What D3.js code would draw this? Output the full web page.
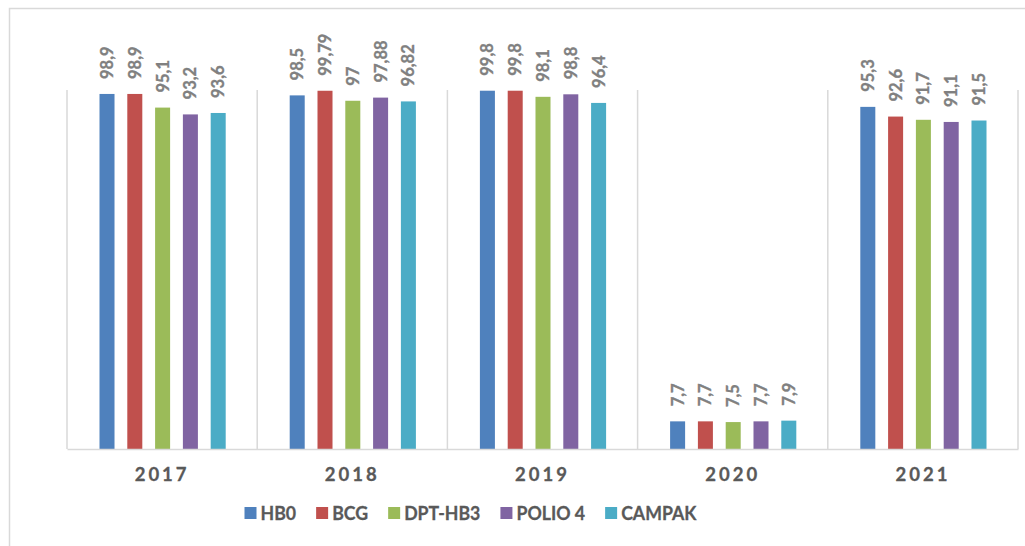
<!DOCTYPE html>
<html>
<head>
<meta charset="utf-8">
<script src="https://cdn.jsdelivr.net/npm/d3@7"></script>
<style>
  html, body { margin: 0; padding: 0; background: #fff; }
  svg { display: block; font-family: Lato, "Open Sans", sans-serif; }
</style>
</head>
<body>
<svg id="chart" width="1025" height="546"></svg>
<script>
// Immunisation coverage (%) per year and vaccine
const years = ["2017", "2018", "2019", "2020", "2021"];
const vaccines = ["HB0", "BCG", "DPT-HB3", "POLIO 4", "CAMPAK"];
const colors = ["#4f81bd", "#c0504d", "#9bbb59", "#8064a2", "#4bacc6"];
const hb0    = [98.9, 98.5, 99.8, 7.7, 95.3];
const bcg    = [98.9, 99.79, 99.8, 7.7, 92.6];
const dptHb3 = [95.1, 97, 98.1, 7.5, 91.7];
const polio4 = [93.2, 97.88, 98.8, 7.7, 91.1];
const campak = [93.6, 96.82, 96.4, 7.9, 91.5];
const seriesValues = [hb0, bcg, dptHb3, polio4, campak];

const svg = d3.select("#chart");
const W = 1025, H = 546;
const plot = { left: 67, right: 1018, top: 90, bottom: 449 };

// outer frame
svg.append("rect")
  .attr("x", 9.5).attr("y", 8.5)
  .attr("width", W + 20).attr("height", H + 20)
  .attr("fill", "none").attr("stroke", "#d9d9d9").attr("stroke-width", 1.5);

const x0 = d3.scaleBand().domain(years).range([plot.left, plot.right]).padding(0);
const x1 = d3.scaleBand().domain(vaccines).range([-62.6, 63.6]).paddingInner(0.46).paddingOuter(0);
const y = d3.scaleLinear().domain([0, 100]).range([plot.bottom, plot.top]);

// category separators
const seps = years.map(d => x0(d)).concat([plot.right]);
svg.append("g").selectAll("line").data(seps).join("line")
  .attr("x1", d => d).attr("x2", d => d)
  .attr("y1", plot.top).attr("y2", plot.bottom)
  .attr("stroke", "#d9d9d9").attr("stroke-width", 1.5);

// bars
const groups = svg.append("g").selectAll("g").data(years).join("g")
  .attr("transform", d => `translate(${x0(d) + x0.bandwidth() / 2},0)`);

groups.each(function(year, yi) {
  const g = d3.select(this);
  const rows = vaccines.map((v, vi) => ({ v, vi, value: seriesValues[vi][yi] }));
  g.selectAll("rect").data(rows).join("rect")
    .attr("x", d => x1(d.v))
    .attr("width", x1.bandwidth())
    .attr("y", d => y(d.value))
    .attr("height", d => y(0) - y(d.value))
    .attr("fill", d => colors[d.vi]);
  g.selectAll("text").data(rows).join("text")
    .attr("transform", d => `translate(${x1(d.v) + x1.bandwidth() / 2},${y(d.value) - 15}) rotate(-90)`)
    .attr("dy", "0.36em")
    .attr("text-anchor", "start")
    .attr("fill", "#808080")
    .attr("font-weight", 700)
    .attr("font-size", 16.5)
    .attr("stroke", "#808080").attr("stroke-width", 0.35)
    .text(d => String(d.value).replace(".", ","));
});

// category axis
const xAxis = svg.append("g")
  .attr("transform", `translate(0,${plot.bottom})`)
  .call(d3.axisBottom(x0).tickSize(0).tickPadding(19));
xAxis.select(".domain").attr("stroke", "#d9d9d9").attr("stroke-width", 1.5);
xAxis.selectAll("text")
  .attr("font-family", "Lato, sans-serif")
  .attr("font-size", 18.5).attr("font-weight", 700)
  .attr("fill", "#595959").attr("letter-spacing", 3)
  .attr("stroke", "#595959").attr("stroke-width", 0.3);

// legend: entries laid out in a row, centred, with a fixed gap between them;
// the labels are narrowed horizontally to keep a compact row
const legendCenter = 470.5, swatch = 12, swatchGap = 4, entryGap = 20, legendTextWidth = 292;
const legend = svg.append("g").attr("transform", "translate(0,507)");
const items = legend.selectAll("g").data(vaccines).join("g");
items.append("rect").attr("width", swatch).attr("height", swatch)
  .attr("fill", (d, i) => colors[i]);
const labels = items.append("text")
  .attr("font-size", 19).attr("font-weight", 700).attr("fill", "#595959")
  .attr("stroke", "#595959").attr("stroke-width", 0.3)
  .text(d => d);
const natural = [];
labels.each(function() { natural.push(this.getComputedTextLength()); });
const sx = Math.min(1, legendTextWidth / d3.sum(natural));
labels.attr("transform", `translate(${swatch + swatchGap},13) scale(${sx},1)`);
const widths = natural.map(w => w * sx);
const total = d3.sum(widths) + vaccines.length * (swatch + swatchGap) + (vaccines.length - 1) * entryGap;
let cx = legendCenter - total / 2;
items.attr("transform", (d, i) => {
  const t = `translate(${cx},0)`;
  cx += swatch + swatchGap + widths[i] + entryGap;
  return t;
});
</script>
</body>
</html>
